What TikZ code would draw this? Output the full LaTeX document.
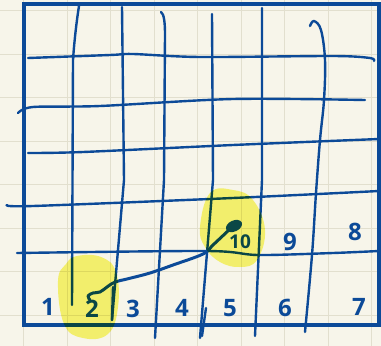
\documentclass[tikz,border=0pt]{standalone}
\usepackage{fontspec}
\newfontfamily\handfont{Open Sans}
\definecolor{penblue}{RGB}{12,74,152}
\definecolor{paper}{RGB}{247,245,234}
\definecolor{faint}{RGB}{226,223,206}
\definecolor{hiyellow}{RGB}{250,248,118}
\begin{document}
\begin{tikzpicture}[x=1pt, y=-1pt,
      pen/.style={penblue, line width=2.4pt, line cap=round, line join=round},
      frame/.style={penblue, line width=3.8pt},
      num/.style={penblue, font=\handfont\bfseries\fontsize{24}{24}\selectfont, inner sep=0pt},
      hilite/.style={fill=hiyellow}]
      % paper with faint squares
      \fill[paper] (0,0) rectangle (381,346);
      \useasboundingbox (0,0) rectangle (381,346);
      \foreach \k in {0,...,8} {
        \draw[faint, line width=0.9pt] (23.5+43.5*\k,0) -- (23.5+43.5*\k,346);
        \draw[faint, line width=0.9pt] (0,10.5+43.5*\k) -- (381,10.5+43.5*\k);
      }

      % board frame
      \draw[frame] (24,4) rectangle (379,325);

      % column lines (hand drawn)
      \draw[pen] (79,6) .. controls (76,25) and (74,45) .. (73,60) -- (72,305);
      \draw[pen] (122,7) -- (124,180) -- (112,320);
      \draw[pen] (113,287) -- (112,320);
      \draw[pen] (161,12) .. controls (164,14) and (165,22) .. (165,35) -- (164,180) -- (155,338);
      \draw[pen] (212,14) -- (213,180) -- (200,338);
      \draw[pen] (206,308) -- (202,336);
      \draw[pen] (262,8) -- (262,180) -- (255,336);
      \draw[pen] plot[smooth, tension=0.6] coordinates {(310,26) (314,21) (321,30) (325,60) (324,100) (320,140) (316,193) (312,255) (305,332)};

      % row lines (hand drawn)
      \draw[pen] plot[smooth, tension=0.5] coordinates {(28,58) (110,55) (133,54) (200,57) (333,56) (370,58) (374,61)};
      \draw[pen] plot[smooth, tension=0.5] coordinates {(18,113) (33,107) (100,106) (233,99) (365,100)};
      \draw[pen] plot[smooth, tension=0.5] coordinates {(28,153) (83,152) (233,145) (379,139)};
      \draw[pen] plot[smooth, tension=0.5] coordinates {(7,205) (33,206) (233,198) (379,191)};
      \draw[pen] plot[smooth, tension=0.5] coordinates {(17,253) (207,251) (258,255) (333,253) (379,251)};

      % square numbers
      \node[num] (s1) at (48,307) {1};
      \node[num] (s2) at (92,309) {2};
      \node[num] (s3) at (133,309) {3};
      \node[num] (s4) at (182,308) {4};
      \node[num] (s5) at (230,308) {5};
      \node[num] (s6) at (285,308) {6};
      \node[num] (s7) at (359,307) {7};
      \node[num] (s8) at (355,232) {8};
      \node[num] (s9) at (290,242) {9};
      \node[num, font=\handfont\bfseries\fontsize{19}{19}\selectfont] (s10) at (240,242) {10};

      % snake from 10 down to 2
      \draw[pen, line width=3pt] plot[smooth, tension=0.6] coordinates {(230,229) (213,245) (203,254) (173,265) (150,273) (127,279) (115,282) (107,287) (100,292) (93,293) (88,296) (90,300)};
      \fill[penblue, rotate around={25:(234,226)}] (234,226) ellipse [x radius=8.5, y radius=5.5];

      % highlighter on top
      \begin{scope}[blend mode=multiply]
        \fill[hilite] plot[smooth cycle, tension=0.7] coordinates {(66,264) (77,256) (101,257) (116,272) (118,307) (108,334) (83,338) (64,324) (58,281)};
        \fill[hilite] plot[smooth cycle, tension=0.7] coordinates {(210,193) (233,190) (253,200) (265,230) (257,260) (240,267) (220,262) (205,247) (200,227)};
      \end{scope}
\end{tikzpicture}
\end{document}
